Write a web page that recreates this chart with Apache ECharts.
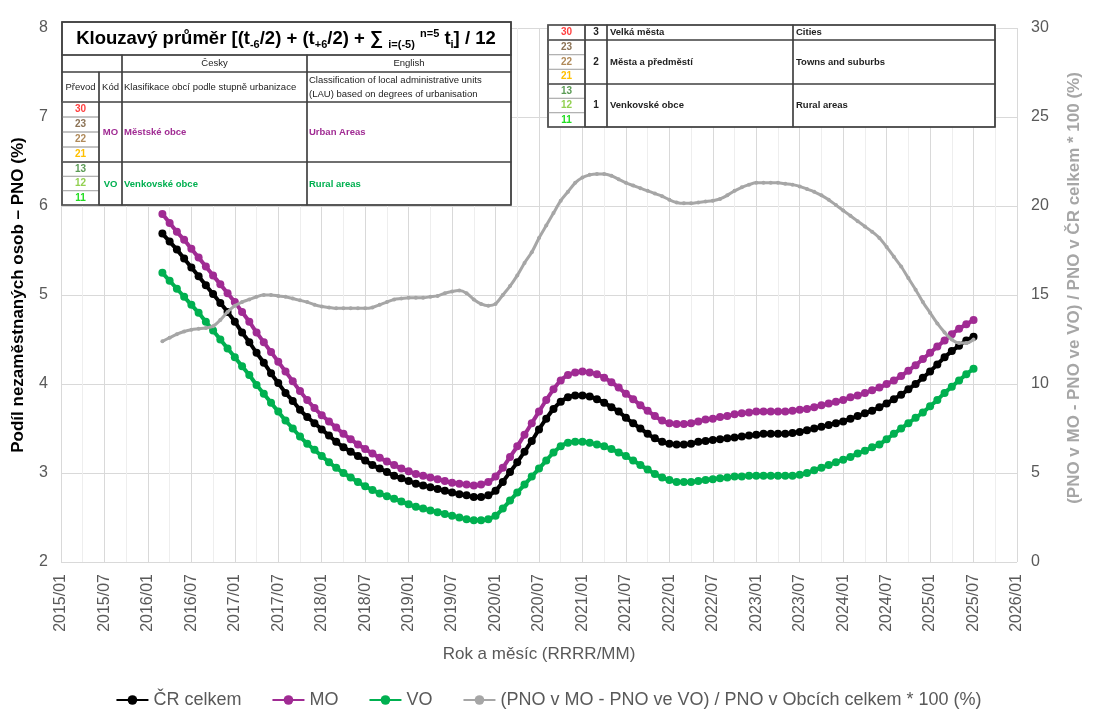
<!DOCTYPE html>
<html>
<head>
<meta charset="utf-8">
<script src="https://cdn.jsdelivr.net/npm/echarts@6/dist/echarts.min.js"></script>
<style>
  html, body { margin: 0; padding: 0; background: #fff; }
  #main { width: 1097px; height: 721px; }
</style>
</head>
<body>
<div id="main"></div>
<script>
// x tick labels, every 6 months (index 0 = 2015/01)
const xTickLabels = ['2015/01', '2015/07', '2016/01', '2016/07', '2017/01', '2017/07', '2018/01', '2018/07',
  '2019/01', '2019/07', '2020/01', '2020/07', '2021/01', '2021/07', '2022/01', '2022/07', '2023/01',
  '2023/07', '2024/01', '2024/07', '2025/01', '2025/07', '2026/01'];
const firstMonth = 14; // 2016/03, months since 2015/01

// ČR celkem (%), monthly 2016/03 .. 2025/07
const crCelkem = [
  5.69, 5.60, 5.51, 5.41, 5.31, 5.21, 5.11, 5.01, 4.91, 4.81,
  4.70, 4.58, 4.47, 4.35, 4.24, 4.12, 4.01, 3.90, 3.81, 3.71,
  3.63, 3.56, 3.49, 3.42, 3.35, 3.29, 3.24, 3.19, 3.14, 3.09,
  3.05, 3.01, 2.97, 2.94, 2.91, 2.88, 2.86, 2.84, 2.82, 2.80,
  2.78, 2.76, 2.75, 2.73, 2.73, 2.75, 2.80, 2.90, 3.01, 3.12,
  3.24, 3.36, 3.49, 3.61, 3.72, 3.80, 3.85, 3.87, 3.87, 3.86,
  3.83, 3.79, 3.74, 3.69, 3.62, 3.56, 3.50, 3.44, 3.39, 3.35,
  3.33, 3.32, 3.32, 3.33, 3.35, 3.36, 3.37, 3.38, 3.39, 3.40,
  3.41, 3.42, 3.43, 3.44, 3.44, 3.44, 3.44, 3.45, 3.46, 3.48,
  3.50, 3.52, 3.54, 3.56, 3.58, 3.61, 3.64, 3.67, 3.70, 3.74,
  3.78, 3.83, 3.88, 3.94, 4.00, 4.07, 4.14, 4.22, 4.30, 4.37,
  4.43, 4.49, 4.53
];
// MO - městské obce
const mo = [
  5.91, 5.81, 5.71, 5.62, 5.52, 5.42, 5.32, 5.22, 5.12, 5.02,
  4.92, 4.81, 4.70, 4.58, 4.47, 4.36, 4.25, 4.14, 4.03, 3.92,
  3.82, 3.73, 3.65, 3.58, 3.51, 3.44, 3.38, 3.32, 3.27, 3.22,
  3.17, 3.13, 3.09, 3.05, 3.02, 2.99, 2.97, 2.95, 2.93, 2.91,
  2.89, 2.88, 2.87, 2.86, 2.87, 2.90, 2.96, 3.06, 3.18, 3.30,
  3.43, 3.56, 3.69, 3.82, 3.94, 4.04, 4.10, 4.13, 4.14, 4.13,
  4.11, 4.07, 4.02, 3.96, 3.89, 3.83, 3.76, 3.70, 3.64, 3.59,
  3.56, 3.55, 3.55, 3.56, 3.58, 3.60, 3.61, 3.63, 3.64, 3.66,
  3.67, 3.68, 3.69, 3.69, 3.69, 3.69, 3.69, 3.70, 3.71, 3.72,
  3.74, 3.76, 3.78, 3.80, 3.82, 3.85, 3.87, 3.90, 3.93, 3.96,
  4.00, 4.04, 4.09, 4.15, 4.21, 4.28, 4.35, 4.42, 4.49, 4.56,
  4.62, 4.67, 4.72
];
// VO - venkovské obce
const vo = [
  5.25, 5.16, 5.07, 4.98, 4.89, 4.80, 4.70, 4.60, 4.50, 4.40,
  4.30, 4.20, 4.10, 3.99, 3.89, 3.79, 3.69, 3.59, 3.50, 3.41,
  3.33, 3.26, 3.19, 3.12, 3.06, 3.00, 2.95, 2.90, 2.85, 2.81,
  2.77, 2.74, 2.71, 2.68, 2.65, 2.62, 2.60, 2.58, 2.56, 2.54,
  2.52, 2.50, 2.48, 2.47, 2.47, 2.48, 2.52, 2.60, 2.69, 2.78,
  2.87, 2.96, 3.05, 3.14, 3.23, 3.30, 3.34, 3.35, 3.35, 3.34,
  3.32, 3.30, 3.27, 3.23, 3.19, 3.14, 3.09, 3.04, 2.99, 2.95,
  2.92, 2.90, 2.90, 2.90, 2.91, 2.92, 2.93, 2.94, 2.95, 2.96,
  2.96, 2.97, 2.97, 2.97, 2.97, 2.97, 2.97, 2.97, 2.98, 3.00,
  3.03, 3.06, 3.09, 3.12, 3.15, 3.18, 3.22, 3.25, 3.29, 3.32,
  3.38, 3.44, 3.50, 3.56, 3.62, 3.68, 3.75, 3.82, 3.90, 3.97,
  4.04, 4.11, 4.17
];
// (PNO v MO - PNO ve VO) / PNO v ČR * 100 (%), right axis
const rozdil = [
  12.4, 12.6, 12.8, 12.95, 13.05, 13.1, 13.15, 13.25, 13.6, 14.05,
  14.4, 14.6, 14.75, 14.9, 15.0, 15.0, 14.95, 14.9, 14.8, 14.7,
  14.6, 14.45, 14.35, 14.3, 14.25, 14.25, 14.25, 14.25, 14.25, 14.3,
  14.45, 14.6, 14.75, 14.8, 14.85, 14.85, 14.85, 14.9, 14.95, 15.1,
  15.2, 15.25, 15.1, 14.75, 14.5, 14.4, 14.5, 15.0, 15.5, 16.1,
  16.8, 17.4, 18.2, 18.9, 19.6, 20.3, 20.8, 21.3, 21.6, 21.75,
  21.8, 21.8, 21.7, 21.5, 21.3, 21.15, 21.0, 20.85, 20.7, 20.55,
  20.35, 20.2, 20.15, 20.15, 20.2, 20.25, 20.3, 20.4, 20.6, 20.85,
  21.05, 21.2, 21.3, 21.3, 21.3, 21.3, 21.25, 21.2, 21.1, 20.95,
  20.8, 20.6, 20.35, 20.05, 19.75, 19.45, 19.15, 18.85, 18.55, 18.2,
  17.7, 17.15, 16.6, 15.95, 15.3, 14.6, 14.0, 13.4, 12.9, 12.5,
  12.3, 12.3, 12.5
];

const seriesNames = ['ČR celkem', 'MO', 'VO', '(PNO v MO - PNO ve VO) / PNO v Obcích celkem * 100 (%)'];
const seriesColors = ['#000000', '#A02B93', '#00B050', '#A6A6A6'];

const toPairs = arr => arr.map((v, i) => [firstMonth + i, v]);

const FONT = '"Liberation Sans", Arial, sans-serif';
const DARK = '#404040';
const LIGHT = '#b0b0b0';

function box(x, y, w, h, stroke, lw, fill) {
  return { type: 'rect', silent: true, z: 100, shape: { x, y, width: w, height: h },
    style: { fill: fill || 'none', stroke, lineWidth: lw } };
}
function txt(x, y, text, fill, size, weight, align) {
  return { type: 'text', silent: true, z: 101, x, y,
    style: { text, fill, font: `${weight} ${size}px ${FONT}`,
      align: align || 'left', verticalAlign: 'middle', textAlign: align || 'left', textVerticalAlign: 'middle' } };
}

// table 1 (moving average legend)
const t1 = [];
t1.push(box(62, 22, 449, 183, DARK, 1.5, '#fff'));
t1.push(box(62, 22, 449, 33, DARK, 1.5));
t1.push({ type: 'text', silent: true, z: 101, x: 286, y: 39,
  style: {
    text: '{b|Klouzavý průměr [(t}{s|-6}{b|/2) + (t}{s|+6}{b|/2) + ∑ }{s|i=(-5)}{b| }{p|n=5}{b| t}{s|i}{b|] / 12}',
    align: 'center', verticalAlign: 'middle', textAlign: 'center', textVerticalAlign: 'middle',
    rich: {
      b: { font: `bold 18.5px ${FONT}`, fill: '#000', lineHeight: 24 },
      s: { font: `bold 11px ${FONT}`, fill: '#000', padding: [11, 0, 0, 0] },
      p: { font: `bold 11px ${FONT}`, fill: '#000', padding: [0, 0, 11, 0] }
    }
  } });
// header rows
[[62, 60], [122, 185], [307, 204]].forEach(([x, w]) => t1.push(box(x, 55, w, 17, DARK, 1.2)));
t1.push(txt(214.5, 63.5, 'Česky', '#222', 9.5, 'normal', 'center'));
t1.push(txt(409, 63.5, 'English', '#222', 9.5, 'normal', 'center'));
[[62, 37], [99, 23], [122, 185], [307, 204]].forEach(([x, w]) => t1.push(box(x, 72, w, 30, DARK, 1.2)));
t1.push(txt(80.5, 87, 'Převod', '#222', 9.5, 'normal', 'center'));
t1.push(txt(110.5, 87, 'Kód', '#222', 9.5, 'normal', 'center'));
t1.push(txt(124, 87, 'Klasifikace obcí podle stupně urbanizace', '#222', 9.5, 'normal'));
t1.push(txt(309, 80, 'Classification of local administrative units', '#222', 9.5, 'normal'));
t1.push(txt(309, 94.5, '(LAU) based on degrees of urbanisation', '#222', 9.5, 'normal'));

const codeRows = [
  { codes: ['30', '23', '22', '21'], colors: ['#FF4040', '#8C7356', '#B08A5A', '#FFC000'] },
  { codes: ['13', '12', '11'], colors: ['#5B9B55', '#92D050', '#22DD22'] }
];
// MO block
codeRows[0].codes.forEach((c, i) => {
  t1.push(box(62, 102 + i * 15, 37, 15, LIGHT, 1));
  t1.push(txt(80.5, 109.5 + i * 15, c, codeRows[0].colors[i], 10, 'bold', 'center'));
});
[[62, 37], [99, 23], [122, 185], [307, 204]].forEach(([x, w]) => t1.push(box(x, 102, w, 60, DARK, 1.2)));
t1.push(txt(110.5, 132, 'MO', '#A02B93', 9.5, 'bold', 'center'));
t1.push(txt(124, 132, 'Městské obce', '#A02B93', 9.5, 'bold'));
t1.push(txt(309, 132, 'Urban Areas', '#A02B93', 9.5, 'bold'));
// VO block
codeRows[1].codes.forEach((c, i) => {
  t1.push(box(62, 162 + i * 14.33, 37, 14.33, LIGHT, 1));
  t1.push(txt(80.5, 169.2 + i * 14.33, c, codeRows[1].colors[i], 10, 'bold', 'center'));
});
[[62, 37], [99, 23], [122, 185], [307, 204]].forEach(([x, w]) => t1.push(box(x, 162, w, 43, DARK, 1.2)));
t1.push(txt(110.5, 184, 'VO', '#00B050', 9.5, 'bold', 'center'));
t1.push(txt(124, 184, 'Venkovské obce', '#00B050', 9.5, 'bold'));
t1.push(txt(309, 184, 'Rural areas', '#00B050', 9.5, 'bold'));

// table 2 (degree of urbanisation)
const t2 = [];
t2.push(box(548, 25, 447, 102, DARK, 1.5, '#fff'));
const t2Rows = [
  { y: 25, h: 15, codes: ['30'], colors: ['#FF4040'], k: '3', cz: 'Velká města', en: 'Cities' },
  { y: 40, h: 44, codes: ['23', '22', '21'], colors: ['#8C7356', '#B08A5A', '#FFC000'], k: '2', cz: 'Města a předměstí', en: 'Towns and suburbs' },
  { y: 84, h: 43, codes: ['13', '12', '11'], colors: ['#5B9B55', '#92D050', '#22DD22'], k: '1', cz: 'Venkovské obce', en: 'Rural areas' }
];
t2Rows.forEach(r => {
  const sh = r.h / r.codes.length;
  r.codes.forEach((c, i) => {
    t2.push(box(548, r.y + i * sh, 37, sh, LIGHT, 1));
    t2.push(txt(566.5, r.y + i * sh + sh / 2, c, r.colors[i], 10, 'bold', 'center'));
  });
  [[548, 37], [585, 22], [607, 186], [793, 202]].forEach(([x, w]) => t2.push(box(x, r.y, w, r.h, DARK, 1.2)));
  const cy = r.y + r.h / 2;
  t2.push(txt(596, cy, r.k, '#222', 10, 'bold', 'center'));
  t2.push(txt(610, cy, r.cz, '#222', 9.5, 'bold'));
  t2.push(txt(796, cy, r.en, '#222', 9.5, 'bold'));
});

const chart = echarts.init(document.getElementById('main'), null, { renderer: 'canvas' });

const lineSeries = [crCelkem, mo, vo, rozdil].map((arr, i) => ({
  name: seriesNames[i],
  type: 'line',
  yAxisIndex: i === 3 ? 1 : 0,
  data: toPairs(arr),
  smooth: 0.3,
  symbol: 'circle',
  symbolSize: i === 3 ? 4 : 8,
  showSymbol: true,
  color: seriesColors[i],
  lineStyle: { width: i === 3 ? 3 : 4, color: seriesColors[i] },
  itemStyle: { color: seriesColors[i] },
  z: 2 + i
}));

const option = {
  animation: false,
  backgroundColor: '#fff',
  textStyle: { fontFamily: FONT },
  grid: { left: 61, right: 80, top: 28, bottom: 159, containLabel: false, outerBoundsMode: 'none' },
  legend: {
    top: 686,
    left: 'center',
    itemWidth: 32,
    itemHeight: 12,
    itemGap: 30,
    data: seriesNames,
    textStyle: { fontSize: 18, color: '#595959', fontFamily: FONT }
  },
  xAxis: {
    type: 'value',
    min: 0,
    max: 132,
    interval: 6,
    name: 'Rok a měsíc (RRRR/MM)',
    nameLocation: 'middle',
    nameGap: 84,
    nameTextStyle: { fontSize: 17, color: '#595959' },
    axisLine: { show: false },
    axisTick: { show: false },
    minorTick: { show: false, splitNumber: 2 },
    axisLabel: {
      rotate: 90,
      fontSize: 16,
      color: '#595959',
      margin: 12,
      formatter: v => xTickLabels[Math.round(v / 6)] || ''
    },
    splitLine: { show: true, lineStyle: { color: '#d9d9d9', width: 1 } },
    minorSplitLine: { show: true, lineStyle: { color: '#eeeeee', width: 1 } }
  },
  yAxis: [
    {
      type: 'value',
      min: 2,
      max: 8,
      interval: 1,
      name: 'Podíl nezaměstnaných osob – PNO (%)',
      nameLocation: 'middle',
      nameRotate: 90,
      nameGap: 34,
      nameTextStyle: { fontSize: 17, fontWeight: 'bold', color: '#000' },
      axisLine: { show: false },
      axisTick: { show: false },
      axisLabel: { fontSize: 16, color: '#595959', margin: 13 },
      splitLine: { show: true, lineStyle: { color: '#d9d9d9', width: 1 } }
    },
    {
      type: 'value',
      position: 'right',
      min: 0,
      max: 30,
      interval: 5,
      name: '(PNO v MO - PNO ve VO) / PNO v ČR celkem * 100 (%)',
      nameLocation: 'middle',
      nameRotate: 90,
      nameGap: 49,
      nameTextStyle: { fontSize: 17, fontWeight: 'bold', color: '#A6A6A6', padding: [0, 0, 0, 14] },
      axisLine: { show: false },
      axisTick: { show: false },
      axisLabel: { fontSize: 16, color: '#595959', margin: 14 },
      splitLine: { show: false }
    }
  ],
  series: lineSeries,
  graphic: { elements: t1.concat(t2) }
};

chart.setOption(option);
</script>
</body>
</html>
